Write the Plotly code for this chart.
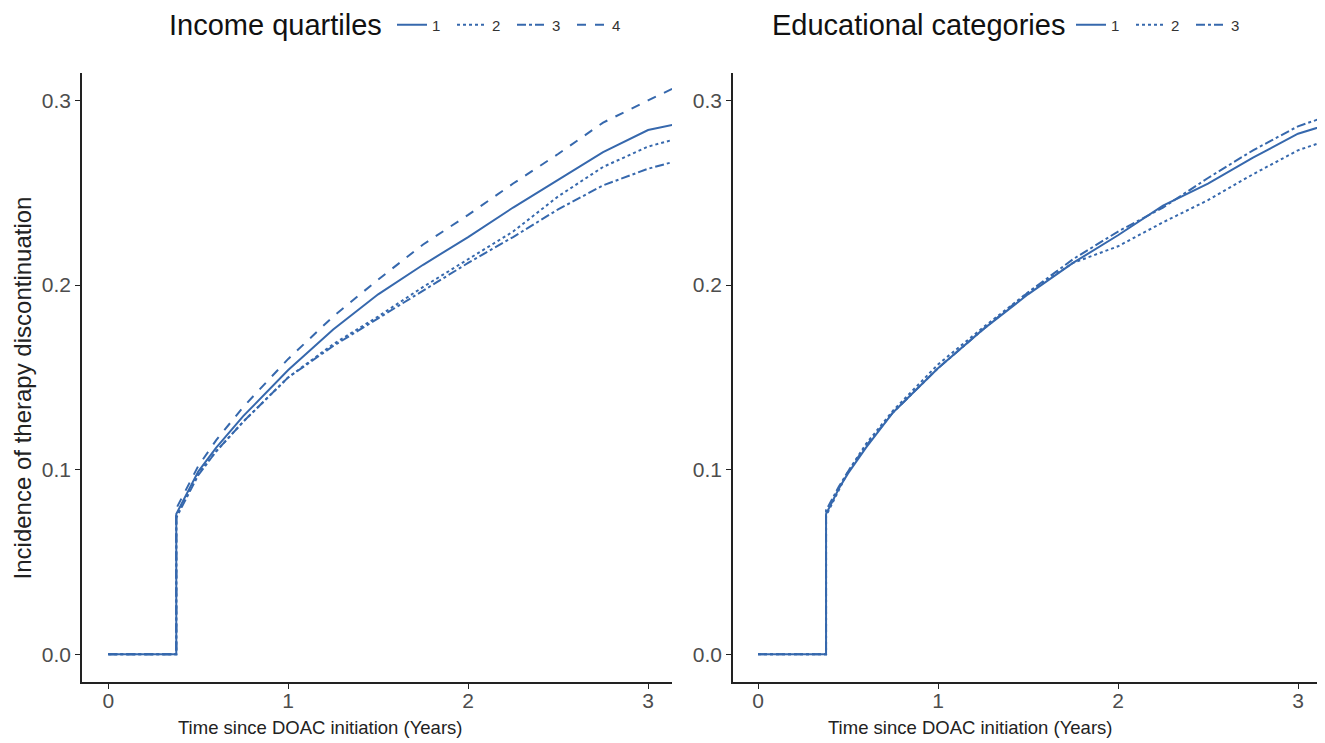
import plotly.graph_objects as go

# ---- data ----
time_years = [0, 0.378, 0.378, 0.45, 0.5, 0.6, 0.75, 1.0, 1.25, 1.5, 1.75, 2.0, 2.25, 2.5, 2.75, 3.0, 3.15]

income_q1 = [0, 0, 0.076, 0.090, 0.099, 0.112, 0.129, 0.154, 0.176, 0.195, 0.211, 0.226, 0.242, 0.257, 0.272, 0.284, 0.287]
income_q2 = [0, 0, 0.075, 0.089, 0.098, 0.110, 0.126, 0.150, 0.168, 0.183, 0.199, 0.214, 0.229, 0.248, 0.264, 0.275, 0.279]
income_q3 = [0, 0, 0.074, 0.088, 0.097, 0.110, 0.126, 0.150, 0.167, 0.182, 0.197, 0.212, 0.226, 0.241, 0.254, 0.263, 0.267]
income_q4 = [0, 0, 0.079, 0.093, 0.102, 0.116, 0.134, 0.160, 0.183, 0.203, 0.222, 0.238, 0.255, 0.271, 0.288, 0.300, 0.307]

edu_1 = [0, 0, 0.076, 0.090, 0.098, 0.112, 0.131, 0.155, 0.176, 0.195, 0.212, 0.227, 0.243, 0.255, 0.269, 0.282, 0.2865]
edu_2 = [0, 0, 0.075, 0.089, 0.099, 0.114, 0.132, 0.157, 0.177, 0.196, 0.212, 0.221, 0.234, 0.246, 0.260, 0.273, 0.278]
edu_3 = [0, 0, 0.078, 0.091, 0.099, 0.113, 0.131, 0.155, 0.176, 0.196, 0.214, 0.229, 0.242, 0.258, 0.273, 0.286, 0.291]

income_labels = ["1", "2", "3", "4"]
edu_labels = ["1", "2", "3"]
x_ticks = [0, 1, 2, 3]
x_tick_text = ["0", "1", "2", "3"]
y_ticks = [0.0, 0.1, 0.2, 0.3]
y_tick_text = ["0.0", "0.1", "0.2", "0.3"]

# ---- style ----
OFF = 8  # page body margin
W, H = 1325 - OFF, 743 - OFF
LINE = "#3668AD"
FONT = "Liberation Sans, Arial, sans-serif"
dashes = ["solid", "dot", "dashdot", "dash"]

def px_x(p):
    return (p - OFF) / W

def px_y(p):
    return 1 - (p - OFF) / H

fig = go.Figure()

for lab, ys, d in zip(income_labels, [income_q1, income_q2, income_q3, income_q4], dashes):
    fig.add_trace(go.Scatter(x=time_years, y=ys, mode="lines", name=lab,
                             line=dict(color=LINE, width=2, dash=d),
                             xaxis="x", yaxis="y", legend="legend"))

for lab, ys, d in zip(edu_labels, [edu_1, edu_2, edu_3], dashes):
    fig.add_trace(go.Scatter(x=time_years, y=ys, mode="lines", name=lab,
                             line=dict(color=LINE, width=2, dash=d),
                             xaxis="x2", yaxis="y2", legend="legend2"))

axis_common = dict(showgrid=False, zeroline=False, showline=True, linecolor="#222222",
                   linewidth=1.5, ticks="outside", ticklen=5, tickwidth=1.2,
                   tickcolor="#222222", tickfont=dict(family=FONT, size=21, color="#4D4D4D"))

y_range = [-0.0151, 0.315]

legend_common = dict(orientation="h", yanchor="middle", xanchor="left",
                     font=dict(family=FONT, size=15, color="#333333"),
                     bgcolor="rgba(0,0,0,0)", itemwidth=30, tracegroupgap=0,
                     entrywidth=15, entrywidthmode="pixels")

fig.update_layout(
    width=W, height=H,
    margin=dict(l=0, r=0, t=0, b=0),
    paper_bgcolor="white", plot_bgcolor="white",
    font=dict(family=FONT, color="#222222"),
    xaxis=dict(domain=[px_x(82), px_x(672)], range=[-0.146, 3.133], anchor="y",
               tickvals=x_ticks, ticktext=x_tick_text, ticklabelstandoff=-6, **axis_common),
    yaxis=dict(domain=[px_y(682), px_y(70)], range=y_range, anchor="x",
               tickvals=y_ticks, ticktext=y_tick_text, **axis_common),
    xaxis2=dict(domain=[px_x(733), px_x(1325)], range=[-0.139, 3.15], anchor="y2",
                tickvals=x_ticks, ticktext=x_tick_text, ticklabelstandoff=-6, **axis_common),
    yaxis2=dict(domain=[px_y(682), px_y(70)], range=y_range, anchor="x2",
                tickvals=y_ticks, ticktext=y_tick_text, **axis_common),
    legend=dict(x=px_x(392), y=px_y(22), **legend_common),
    legend2=dict(x=px_x(1071), y=px_y(22), **legend_common),
    showlegend=True,
)

fig.add_annotation(text="Income quartiles", x=px_x(167), y=px_y(22),
                   xref="paper", yref="paper", showarrow=False, xanchor="left", yanchor="middle",
                   font=dict(family=FONT, size=29, color="#111111"))
fig.add_annotation(text="Educational categories", x=px_x(770), y=px_y(22),
                   xref="paper", yref="paper", showarrow=False, xanchor="left", yanchor="middle",
                   font=dict(family=FONT, size=29, color="#111111"))
fig.add_annotation(text="Time since DOAC initiation (Years)", x=px_x(320), y=px_y(727),
                   xref="paper", yref="paper", showarrow=False, xanchor="center", yanchor="middle",
                   font=dict(family=FONT, size=18.5, color="#222222"))
fig.add_annotation(text="Time since DOAC initiation (Years)", x=px_x(970), y=px_y(727),
                   xref="paper", yref="paper", showarrow=False, xanchor="center", yanchor="middle",
                   font=dict(family=FONT, size=18.5, color="#222222"))
fig.add_annotation(text="Incidence of therapy discontinuation", x=px_x(22), y=px_y(387),
                   xref="paper", yref="paper", showarrow=False, textangle=-90,
                   xanchor="center", yanchor="middle",
                   font=dict(family=FONT, size=24, color="#222222"))

fig.write_html("out.html")
